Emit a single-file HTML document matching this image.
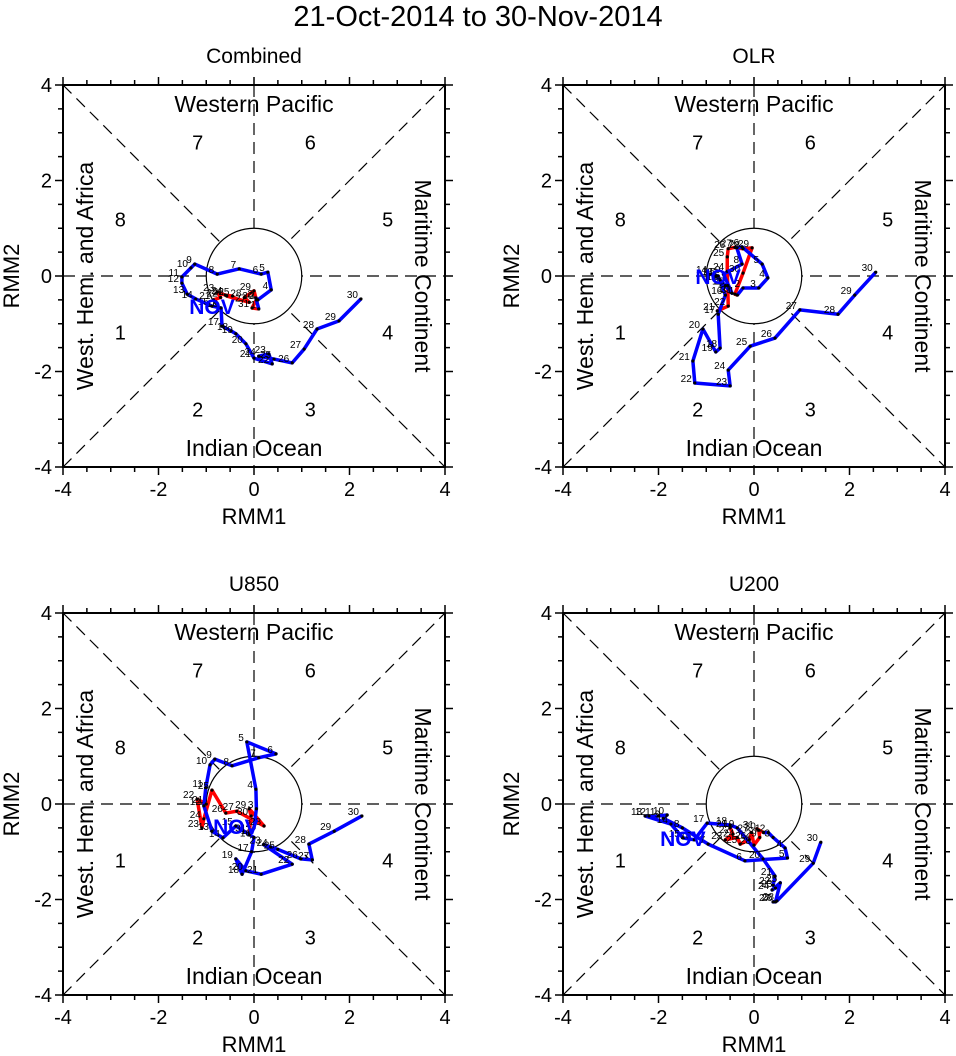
<!DOCTYPE html>
<html><head><meta charset="utf-8"><style>
html,body{margin:0;padding:0;background:#fff;}
svg{display:block;font-family:"Liberation Sans",Arial,sans-serif;}
</style></head><body>
<svg id="chart" width="956" height="1056" viewBox="0 0 956 1056">
<text x="478" y="26" font-size="29" text-anchor="middle">21-Oct-2014 to 30-Nov-2014</text>
</svg>
<script>
const tickValues=[-4,-2,0,2,4];
const tickLabels=["-4","-2","0","2","4"];
const panelTitles=["Combined","OLR","U850","U200"];
const octDays=[21,22,23,24,25,26,27,28,29,30,31];
const novDays=[1,2,3,4,5,6,7,8,9,10,11,12,13,14,15,16,17,18,19,20,21,22,23,24,25,26,27,28,29,30];
const phaseLabels=["1","2","3","4","5","6","7","8"];
// Combined
const combOctX=[-0.85,-0.7,-0.77,-0.6,-0.45,-0.57,-0.1,-0.2,0.0,0.05,-0.04];
const combOctY=[-0.5,-0.45,-0.34,-0.4,-0.42,-0.42,-0.55,-0.45,-0.31,-0.5,-0.67];
const combNovX=[0.10,0.04,0.08,0.36,0.29,0.15,-0.31,-0.77,-1.24,-1.32,-1.51,-1.51,-1.40,-1.22,-0.88,-0.69,-0.67,-0.48,-0.38,-0.17,0.0,0.38,0.31,0.10,0.42,0.80,1.05,1.32,1.78,2.24];
const combNovY=[-0.69,-0.46,-0.5,-0.29,0.08,0.04,0.15,0.04,0.25,0.17,-0.02,-0.15,-0.38,-0.48,-0.63,-0.67,-1.05,-1.15,-1.21,-1.42,-1.72,-1.84,-1.63,-1.68,-1.74,-1.82,-1.53,-1.11,-0.94,-0.48];
// OLR
const olrOctX=[-0.77,-0.54,-0.55,-0.56,-0.56,-0.54,-0.4,-0.23,-0.04,-0.23,-0.40];
const olrOctY=[-0.73,-0.63,-0.2,0.1,0.4,0.57,0.6,0.57,0.59,0.06,-0.38];
const olrNovX=[-0.35,-0.23,0.10,0.29,0.17,-0.25,-0.36,-0.25,-0.64,-0.46,-0.6,-0.7,-0.8,-0.92,-0.75,-0.6,-0.75,-0.71,-0.80,-1.07,-1.28,-1.24,-0.50,-0.54,-0.08,0.44,0.96,1.76,2.11,2.55];
const olrNovY=[-0.4,-0.25,-0.25,-0.04,0.25,0.61,0.59,0.25,0.04,-0.36,-0.2,-0.1,0.0,0.04,0.0,-0.4,-0.80,-1.51,-1.59,-1.11,-1.78,-2.24,-2.30,-1.97,-1.47,-1.30,-0.71,-0.80,-0.40,0.08];
// U850
const u850OctX=[-1.0,-1.19,-1.09,-1.05,-0.88,-0.59,-0.36,0.21,-0.10,-0.06,-0.1];
const u850OctY=[0.0,0.10,-0.50,-0.31,0.29,-0.19,-0.15,-0.46,-0.10,-0.25,-0.6];
const u850NovX=[-0.1,0.0,0.05,0.04,-0.15,0.46,0.10,-0.46,-0.82,-0.92,-1.01,-1.05,-0.88,-0.65,-0.38,0.0,-0.05,-0.25,-0.38,-0.17,0.15,0.80,0.2,0.35,0.5,0.98,1.22,1.15,1.68,2.26];
const u850NovY=[-0.65,-0.5,-0.1,0.31,1.30,1.05,0.97,0.80,0.94,0.82,0.34,-0.04,-0.57,-0.71,-0.46,-0.7,-1.0,-1.47,-1.15,-1.40,-1.47,-1.26,-0.85,-0.9,-0.95,-1.15,-1.17,-0.84,-0.57,-0.25];
// U200
const u200OctX=[-0.5,-0.44,-0.6,-0.35,-0.29,-0.1,-0.05,0.0,0.12,0.1,0.06];
const u200OctY=[-0.5,-0.63,-0.75,-0.7,-0.84,-0.75,-0.6,-0.86,-0.7,-0.55,-0.52];
const u200NovX=[0.2,0.3,0.4,0.65,0.70,-0.19,-0.96,-1.5,-1.9,-1.82,-2.0,-2.2,-2.28,-1.74,-1.49,-1.25,-0.98,-0.50,-0.35,0.19,0.44,0.40,0.45,0.38,0.55,0.45,0.40,0.48,1.24,1.40];
const u200NovY=[-0.6,-0.6,-0.7,-0.92,-1.13,-1.19,-0.84,-0.5,-0.3,-0.23,-0.25,-0.25,-0.25,-0.42,-0.71,-0.75,-0.40,-0.44,-0.5,-1.15,-1.51,-1.70,-1.76,-1.80,-1.65,-2.05,-2.05,-2.03,-1.24,-0.80];

const panels=[
 {x0:63,y0:85,ox:combOctX,oy:combOctY,nx:combNovX,ny:combNovY},
 {x0:563,y0:85,ox:olrOctX,oy:olrOctY,nx:olrNovX,ny:olrNovY},
 {x0:63,y0:613,ox:u850OctX,oy:u850OctY,nx:u850NovX,ny:u850NovY},
 {x0:563,y0:613,ox:u200OctX,oy:u200OctY,nx:u200NovX,ny:u200NovY}
];
const NS="http://www.w3.org/2000/svg";
const svg=document.getElementById('chart');
function mk(tag,attrs,parent,txt){const e=document.createElementNS(NS,tag);for(const k in attrs)e.setAttribute(k,attrs[k]);if(txt!==undefined)e.textContent=txt;(parent||svg).appendChild(e);return e;}
const W=382;
panels.forEach((p,i)=>{
 const g=mk('g',{});
 
 
 const sx=v=>p.x0+(v+4)/8*W, sy=v=>p.y0+(4-v)/8*W;
 const cx=sx(0),cy=sy(0);
 const t=mk('text',{x:cx,y:p.y0-22,'font-size':21,'text-anchor':'middle'},g,panelTitles[i]);
 
 
 const dl=mk('g',{stroke:'#000','stroke-width':1.2,'stroke-dasharray':'12,7',fill:'none'},g);
 
 
 mk('line',{x1:sx(-4),y1:sy(4),x2:sx(4),y2:sy(-4)},dl);
 mk('line',{x1:sx(-4),y1:sy(-4),x2:sx(4),y2:sy(4)},dl);
 mk('line',{x1:sx(-4),y1:cy,x2:sx(4),y2:cy},dl);
 mk('line',{x1:cx,y1:sy(4),x2:cx,y2:sy(-4)},dl);
 const c=mk('circle',{cx:cx,cy:cy,r:W/8,fill:'#fff',stroke:'#000','stroke-width':1.2},g);
 
 
 const ph=[[-2.8,-1.18],[-1.18,-2.8],[1.18,-2.8],[2.8,-1.18],[2.8,1.18],[1.18,2.8],[-1.18,2.8],[-2.8,1.18]];
 ph.forEach((q,k)=>{const e=mk('text',{x:sx(q[0]),y:sy(q[1])+7,'font-size':20,'text-anchor':'middle'},g,phaseLabels[k]);
  
  });
 let e=mk('text',{x:cx,y:p.y0+27,'font-size':23,'text-anchor':'middle'},g,'Western Pacific');
 
 
 e=mk('text',{x:cx,y:p.y0+W-11,'font-size':23,'text-anchor':'middle'},g,'Indian Ocean');
 
 
 e=mk('text',{x:0,y:0,'font-size':23,'text-anchor':'middle',transform:`translate(${p.x0+30},${cy}) rotate(-90)`},g,'West. Hem. and Africa');
 
 
 e=mk('text',{x:0,y:0,'font-size':23,'text-anchor':'middle',transform:`translate(${p.x0+W-30},${cy}) rotate(90)`},g,'Maritime Continent');
 
 
 const fr=mk('rect',{x:p.x0,y:p.y0,width:W,height:W,fill:'none',stroke:'#000','stroke-width':2},g);
 
 
 const tk=mk('g',{stroke:'#000','stroke-width':1.5},g);
 for(let v=-4;v<=4.001;v+=0.5){
  const L=(Math.abs(v%2)<0.01)?8:5;
  mk('line',{x1:sx(v),y1:p.y0+W,x2:sx(v),y2:p.y0+W+L},tk);
  mk('line',{x1:sx(v),y1:p.y0,x2:sx(v),y2:p.y0-L},tk);
  mk('line',{x1:p.x0,y1:sy(v),x2:p.x0-L,y2:sy(v)},tk);
  mk('line',{x1:p.x0+W,y1:sy(v),x2:p.x0+W+L,y2:sy(v)},tk);
 }
 tickValues.forEach((v,k)=>{
  let a=mk('text',{x:sx(v),y:p.y0+W+29,'font-size':20,'text-anchor':'middle'},g,tickLabels[k]);
  
  
  a=mk('text',{x:p.x0-11,y:sy(v)+7,'font-size':20,'text-anchor':'end'},g,tickLabels[k]);
  
  
 });
 e=mk('text',{x:cx,y:p.y0+W+57,'font-size':22,'text-anchor':'middle'},g,'RMM1');
 
 
 e=mk('text',{x:0,y:0,'font-size':22,'text-anchor':'middle',transform:`translate(${p.x0-44},${cy}) rotate(-90)`},g,'RMM2');
 
 
 const ptsN=p.nx.map((v,k)=>sx(v)+','+sy(p.ny[k]));
 const ptsO=p.ox.map((v,k)=>sx(v)+','+sy(p.oy[k]));
 let l=mk('polyline',{points:ptsO.join(' ')+' '+ptsN[0],fill:'none',stroke:'#f00','stroke-width':3.5,'stroke-linejoin':'round'},g);
 
 
 l=mk('polyline',{points:ptsN.join(' '),fill:'none',stroke:'#00f','stroke-width':3.5,'stroke-linejoin':'round'},g);
 
 
 const lab=(xs,ys,days)=>xs.forEach((v,k)=>{
  const d=mk('circle',{cx:sx(v),cy:sy(ys[k]),r:1.6,fill:'#000'},g);
  
  
  const tx=mk('text',{x:sx(v)-3,y:sy(ys[k])-1,'font-size':10,'text-anchor':'end'},g,String(days[k]));
  
  
 });
 lab(p.ox,p.oy,octDays);
 lab(p.nx,p.ny,novDays);
 e=mk('text',{x:sx(p.nx[14]),y:sy(p.ny[14])+8,'font-size':21,'font-weight':'bold',fill:'#00f','text-anchor':'middle'},g,'NOV');
 
 
});
</script>
</body></html>
